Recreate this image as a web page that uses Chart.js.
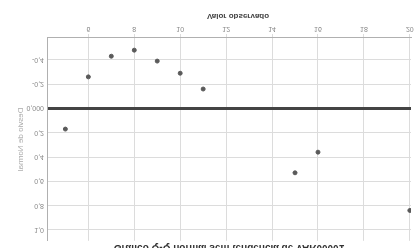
<!DOCTYPE html>
<html>
<head>
<meta charset="utf-8">
<script src="https://cdn.jsdelivr.net/npm/chart.js@4"></script>
<style>
  html, body { margin: 0; padding: 0; background: #fff; }
  /* the reference picture is mirrored top-to-bottom */
  #wrap { width: 414px; height: 248px; transform: scaleY(-1); }
</style>
</head>
<body>
<div id="wrap"><canvas id="qqChart" width="414" height="248"></canvas></div>
<script>
/* ------------------------------
   DATA
--------------------------------*/
const observedValues = [5, 6, 7, 8, 9, 10, 11, 15, 16, 20];
const deviations = [0.17, -0.26, -0.43, -0.48, -0.39, -0.29, -0.16, 0.53, 0.36, 0.84];
const xTicks = [6, 8, 10, 12, 14, 16, 18, 20];
const yTicks = [-0.4, -0.2, 0, 0.2, 0.4, 0.6, 0.8, 1.0];

const chartTitle = "Gráfico Q-Q normal sem tendência de VAR00001";
const xTitle = "Valor observado";
const yTitle = "Desvio de Normal";

const FONT = "'Liberation Sans', Arial, sans-serif";

function fmtY(v) {
    if (Math.abs(v) < 1e-9) return "0,000";
    return v.toFixed(1).replace(".", ",");
}

/* ------------------------------
   TEXT PLUGIN (titles)
--------------------------------*/
const titlesPlugin = {
    id: "titles",
    afterDraw(chart) {
        const ctx = chart.ctx;
        const area = chart.chartArea;
        ctx.save();
        ctx.fillStyle = "#333";
        ctx.textAlign = "center";
        ctx.font = "bold 10px " + FONT;
        ctx.textBaseline = "alphabetic";
        ctx.fillText(chartTitle, (area.left + area.right) / 2, 3);

        ctx.fillStyle = "#444";
        ctx.font = "bold 8px " + FONT;
        ctx.textBaseline = "middle";
        ctx.fillText(xTitle, 238, 232);
        ctx.restore();
    }
};

/* ------------------------------
   CHART
--------------------------------*/
let ctx = document.getElementById("qqChart");

let qqChart = new Chart(ctx, {
    type: "scatter",
    data: {
        datasets: [{
            label: "Desvio",
            data: observedValues.map((x, i) => ({ x: x, y: deviations[i] })),
            backgroundColor: "#5a5a5a",
            borderColor: "#5a5a5a",
            pointRadius: 2,
            pointHoverRadius: 2
        }]
    },
    options: {
        responsive: false,
        animation: false,
        layout: { padding: { top: 6, right: 3, left: 0, bottom: 0 } },
        plugins: {
            legend: { display: false },
            tooltip: { enabled: false }
        },
        scales: {
            x: {
                type: "linear",
                min: 4.2,
                max: 20.05,
                afterBuildTicks: s => { s.ticks = xTicks.map(v => ({ value: v })); },
                afterFit: s => { s.height = 38; s.paddingLeft = 0; s.paddingRight = 0; },
                ticks: {
                    color: "#888",
                    font: { family: FONT, size: 7 },
                    padding: 1,
                    maxRotation: 0
                },
                grid: { color: "#dcdcdc", lineWidth: 1, tickLength: 4 },
                border: { color: "#b0b0b0" }
            },
            y: {
                type: "linear",
                min: -0.58,
                max: 1.09,
                afterBuildTicks: s => { s.ticks = yTicks.map(v => ({ value: v })); },
                afterFit: s => { s.width = 47; },
                ticks: {
                    color: "#888",
                    font: { family: FONT, size: 7 },
                    padding: 3,
                    callback: v => fmtY(v)
                },
                grid: {
                    drawTicks: false,
                    color: c => (c.tick && Math.abs(c.tick.value) < 1e-9) ? "#444" : "#dcdcdc",
                    lineWidth: c => (c.tick && Math.abs(c.tick.value) < 1e-9) ? 3 : 1
                },
                border: { color: "#b0b0b0" },
                title: {
                    display: true,
                    text: yTitle,
                    color: "#aaa",
                    font: { family: FONT, size: 8 },
                    padding: { top: 16, bottom: 0 }
                }
            }
        }
    },
    plugins: [titlesPlugin]
});
</script>
</body>
</html>
